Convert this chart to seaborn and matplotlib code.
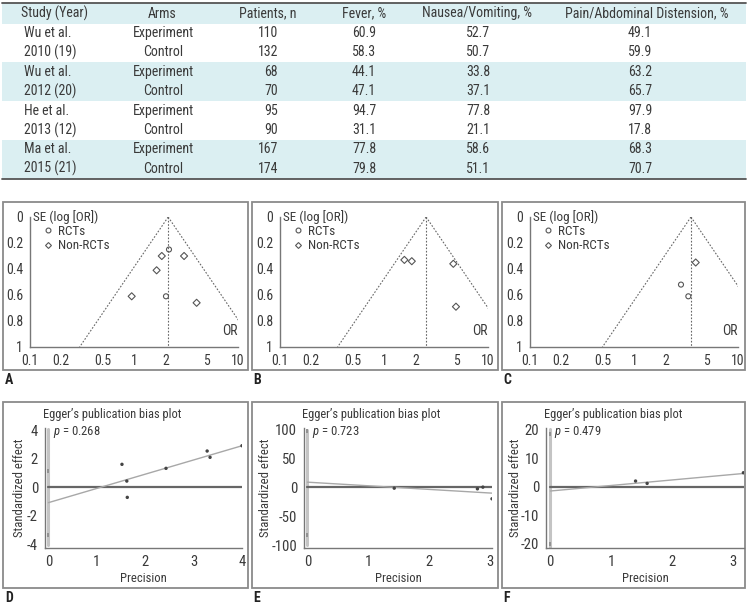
import numpy as np
import pandas as pd
import matplotlib
matplotlib.use("Agg")
import matplotlib.pyplot as plt
from matplotlib import font_manager
from matplotlib.patches import Rectangle
from matplotlib.lines import Line2D
import seaborn as sns

# ---- table data ----
headers = ["Study (Year)", "Arms", "Patients, n", "Fever, %",
           "Nausea/Vomiting, %", "Pain/Abdominal Distension, %"]
study_lines = ["Wu et al.", "2010 (19)", "Wu et al.", "2012 (20)",
               "He et al.", "2013 (12)", "Ma et al.", "2015 (21)"]
arms = ["Experiment", "Control"] * 4
patients = [110, 132, 68, 70, 95, 90, 167, 174]
fever = [60.9, 58.3, 44.1, 47.1, 94.7, 31.1, 77.8, 79.8]
nausea = [52.7, 50.7, 33.8, 37.1, 77.8, 21.1, 58.6, 51.1]
pain = [49.1, 59.9, 63.2, 65.7, 97.9, 17.8, 68.3, 70.7]

# ---- funnel plot data (A, B, C) ----
funnel_pooled = [2.13, 2.54, 3.53]
funnel_or = [[2.17, 1.85, 3.03, 1.65, 0.95, 2.03, 4.0],
             [1.57, 1.85, 4.64, 4.92],
             [3.92, 2.83, 3.33]]
funnel_se = [[0.25, 0.30, 0.30, 0.41, 0.61, 0.61, 0.66],
             [0.33, 0.34, 0.36, 0.69],
             [0.35, 0.52, 0.61]]
funnel_type = [["RCTs", "Non-RCTs", "Non-RCTs", "Non-RCTs", "Non-RCTs", "RCTs", "Non-RCTs"],
               ["Non-RCTs", "Non-RCTs", "Non-RCTs", "Non-RCTs"],
               ["Non-RCTs", "RCTs", "RCTs"]]
or_ticks = [0.1, 0.2, 0.5, 1, 2, 5, 10]
or_labels = ["0.1", "0.2", "0.5", "1", "2", "5", "10"]
se_ticks = [0, 0.2, 0.4, 0.6, 0.8, 1]
se_labels = ["0", "0.2", "0.4", "0.6", "0.8", "1"]

# ---- Egger plot data (D, E, F) ----
egger_prec = [[1.52, 1.62, 1.63, 2.43, 3.28, 3.34, 4.0],
              [1.43, 2.80, 2.89, 3.04],
              [1.40, 1.59, 3.17]]
egger_eff = [[1.61, 0.44, -0.70, 1.33, 2.54, 2.10, 2.91],
             [-1.2, -2.3, 0.6, -19.6],
             [1.98, 1.16, 4.88]]
egger_intercept = [-1.07, 9.2, -1.5]
egger_slope = [0.995, -6.25, 1.93]
egger_xmax = [4.0, 3.04, 3.19]
egger_vspan = [(-4.0, 4.1), (-100, 100), (-21, 20)]
egger_ci = [(-3.33, 1.14), (-82, 98), (-20, 18.5)]
egger_p = ["0.268", "0.723", "0.479"]
egger_yticks = [[-4, -2, 0, 2, 4], [-100, -50, 0, 50, 100], [-20, -10, 0, 10, 20]]
egger_xticks = [[0, 1, 2, 3, 4], [0, 1, 2, 3], [0, 1, 2, 3]]
egger_title = "Egger\u2019s publication bias plot"

sns.set_style("white")

# the original uses a narrow sans; take a condensed face if one is installed
installed = font_manager.fontManager.ttflist
narrow = None
for cand in ["Liberation Sans Narrow", "DejaVu Sans Condensed", "Roboto Condensed",
             "Open Sans Condensed", "Noto Sans Condensed"]:
    if any(f.name == cand for f in installed):
        narrow = cand
        break
stretch = "normal"
if narrow is None:
    for f in installed:
        if f.stretch in ("condensed", "semi-condensed") and f.style == "normal":
            narrow = f.name
            stretch = f.stretch
            break
base_font = narrow if narrow else "DejaVu Sans"

plt.rcParams["font.family"] = [base_font, "DejaVu Sans"]
plt.rcParams["font.stretch"] = stretch
plt.rcParams["axes.unicode_minus"] = False
plt.rcParams["mathtext.fontset"] = "custom"
plt.rcParams["mathtext.it"] = base_font + ":italic"
plt.rcParams["mathtext.rm"] = base_font

W, H = 748, 604
fig = plt.figure(figsize=(W / 100, H / 100), dpi=100)
fig.patch.set_facecolor("white")
renderer = fig.canvas.get_renderer()

def fit_size(s, target_px, base=10.0):
    # font size that gives the string the width it has in the original
    t = fig.text(0, 0, s, fontsize=base)
    w = t.get_window_extent(renderer).width
    t.remove()
    return base * target_px / w

fs_table = fit_size(headers[5], 163)
fs_ftext = fit_size("SE (log [OR])", 65)
fs_etitle = fit_size(egger_title, 137)
fs_ftick = fs_etitle * 1.12
fs_etick = fs_etitle * 1.2
fs_elab = fs_etitle * 1.02
fs_p = fs_etitle * 1.02

def px_axes(left, top, right, bottom):
    return fig.add_axes([left / W, 1 - bottom / H, (right - left) / W, (bottom - top) / H])

bg = px_axes(0, 0, W, H)
bg.set_xlim(0, W)
bg.set_ylim(H, 0)
bg.set_axis_off()

txt = "#3a3a3a"
shade = "#dbeff2"

# ---- table ----
row_h = 19.4
y0 = 33.0
bg.add_patch(Rectangle((2, 3), 744, 20.5, fc=shade, ec="none"))
for r in (2, 6):
    bg.add_patch(Rectangle((2, y0 + r * row_h - row_h / 2), 744, 2 * row_h, fc=shade, ec="none"))
bg.plot([2, 746], [3, 3], color="#555555", lw=1.3)
bg.plot([2, 746], [y0 + 7.5 * row_h, y0 + 7.5 * row_h], color="#555555", lw=1.3)

head_x = [55, 162, 268, 364, 477, 647]
for hx, h in zip(head_x, headers):
    bg.text(hx, 13.5, h, ha="center", va="center", fontsize=fs_table, color=txt)

for i in range(len(study_lines)):
    y = y0 + i * row_h
    bg.text(24, y, study_lines[i], ha="left", va="center", fontsize=fs_table, color=txt)
    bg.text(163, y, arms[i], ha="center", va="center", fontsize=fs_table, color=txt)
    bg.text(278, y, str(patients[i]), ha="right", va="center", fontsize=fs_table, color=txt)
    bg.text(364, y, f"{fever[i]:.1f}", ha="center", va="center", fontsize=fs_table, color=txt)
    bg.text(478, y, f"{nausea[i]:.1f}", ha="center", va="center", fontsize=fs_table, color=txt)
    bg.text(640, y, f"{pain[i]:.1f}", ha="center", va="center", fontsize=fs_table, color=txt)

# ---- panel frames and letters ----
frame_x = [(3, 248), (252, 498), (502, 745)]
for fx0, fx1 in frame_x:
    for fy0, fy1 in [(202, 370), (402, 588)]:
        bg.add_patch(Rectangle((fx0, fy0), fx1 - fx0, fy1 - fy0, fc="none", ec="#8a8a8a", lw=1.3))
for letter, (lx, ly) in zip("ABCDEF", [(5, 380), (253, 380), (503, 380),
                                       (5, 598), (253, 598), (503, 598)]):
    bg.text(lx, ly, letter, ha="left", va="center", fontsize=10, fontweight="bold", color="#222222")

def style_axes(ax):
    for s in ["top", "right"]:
        ax.spines[s].set_visible(False)
    for s in ["left", "bottom"]:
        ax.spines[s].set_color("#777777")
        ax.spines[s].set_linewidth(1.0)
    ax.tick_params(direction="out", length=3, width=0.8, color="#777777",
                   labelcolor=txt, pad=2)
    ax.patch.set_alpha(0)

# ---- funnel plots ----
funnel_px = [(30, 238), (280, 488), (530, 738)]
markers = {"RCTs": "o", "Non-RCTs": "D"}
for k in range(3):
    ax = px_axes(funnel_px[k][0], 217, funnel_px[k][1], 347)
    df = pd.DataFrame({"OR": funnel_or[k], "SE": funnel_se[k], "type": funnel_type[k]})
    pooled = funnel_pooled[k]
    se_line = np.array([0, 1])
    ax.plot([pooled, pooled], [0, 1], color="#666666", lw=0.8, ls=(0, (1.5, 1.5)))
    ax.plot(pooled * np.exp(-1.96 * se_line), se_line, color="#666666", lw=0.8, ls=(0, (1.5, 1.5)))
    ax.plot(pooled * np.exp(1.96 * se_line), se_line, color="#666666", lw=0.8, ls=(0, (1.5, 1.5)))
    sns.scatterplot(data=df, x="OR", y="SE", style="type", markers=markers,
                    style_order=["RCTs", "Non-RCTs"], s=13, fc="none",
                    ec="#555555", linewidth=0.8, legend=False, ax=ax, zorder=3)
    ax.set_xscale("log")
    ax.set_xlim(0.1, 10)
    ax.set_ylim(1, 0)
    ax.set_xticks(or_ticks)
    ax.set_xticklabels(or_labels)
    ax.minorticks_off()
    ax.set_yticks(se_ticks)
    ax.set_yticklabels(se_labels)
    ax.tick_params(labelsize=fs_ftick)
    ax.set_xlabel("")
    ax.set_ylabel("")
    style_axes(ax)
    ax.text(0.015, 1.0, "SE (log [OR])", transform=ax.transAxes, ha="left", va="center",
            fontsize=fs_ftext, color=txt)
    ax.text(1.0, 0.07, "OR", transform=ax.transAxes, ha="right", va="bottom",
            fontsize=fs_ftext * 1.05, color=txt)
    handles = [Line2D([], [], marker="o", ls="", mfc="none", mec="#555555", ms=3.5, mew=0.8),
               Line2D([], [], marker="D", ls="", mfc="none", mec="#555555", ms=3, mew=0.8)]
    ax.legend(handles, ["RCTs", "Non-RCTs"], loc="upper left", bbox_to_anchor=(0.06, 0.94),
              frameon=False, fontsize=fs_ftext, handlelength=0.8, handletextpad=0.4,
              labelspacing=0.1, borderpad=0, borderaxespad=0, labelcolor=txt)

# ---- Egger plots ----
egger_px = [(45, 242), (304, 492), (546, 744)]
egger_xlim = [(-0.07, 4.0), (-0.056, 3.04), (-0.07, 3.18)]
egger_ylim = [(-4.24, 4.15), (-104.8, 103), (-21.4, 20.5)]
ylab_x = [-0.096, -0.17, -0.12]
for k in range(3):
    ax = px_axes(egger_px[k][0], 428, egger_px[k][1], 548)
    vs = egger_vspan[k]
    ax.plot([0, 0], [vs[0], vs[1]], color="#c4c4c4", lw=2.2, zorder=1)
    ax.plot([0, 0], list(egger_ci[k]), ls="", marker="|", ms=3, mew=1.2, color="#888888")
    ax.plot([0, egger_xmax[k]], [0, 0], color="#666666", lw=1.6, zorder=2)
    fit = pd.DataFrame({"x": [0, egger_xmax[k]]})
    fit["y"] = egger_intercept[k] + egger_slope[k] * fit["x"]
    sns.lineplot(data=fit, x="x", y="y", color="#a8a8a8", lw=1.0, ax=ax, zorder=3)
    sns.scatterplot(x=egger_prec[k], y=egger_eff[k], color="#444444", s=6,
                    edgecolor="none", ax=ax, zorder=4)
    ax.set_xlim(*egger_xlim[k])
    ax.set_ylim(*egger_ylim[k])
    ax.set_xticks(egger_xticks[k])
    ax.set_xticklabels([str(v) for v in egger_xticks[k]])
    ax.set_yticks(egger_yticks[k])
    ax.set_yticklabels([str(v) for v in egger_yticks[k]])
    ax.tick_params(labelsize=fs_etick)
    style_axes(ax)
    ax.set_xlabel("Precision", fontsize=fs_elab, color=txt)
    ax.set_ylabel("Standardized effect", fontsize=fs_elab, color=txt)
    ax.xaxis.set_label_coords(0.5, -0.2)
    ax.yaxis.set_label_coords(ylab_x[k], 0.5)
    ax.text(-0.01, 1.11, egger_title, transform=ax.transAxes,
            ha="left", va="center", fontsize=fs_etitle, color=txt)
    ax.text(0.04, 0.965, "$p$ = " + egger_p[k], transform=ax.transAxes,
            ha="left", va="center", fontsize=fs_p, color=txt)

fig.savefig("out.png", dpi=100)
